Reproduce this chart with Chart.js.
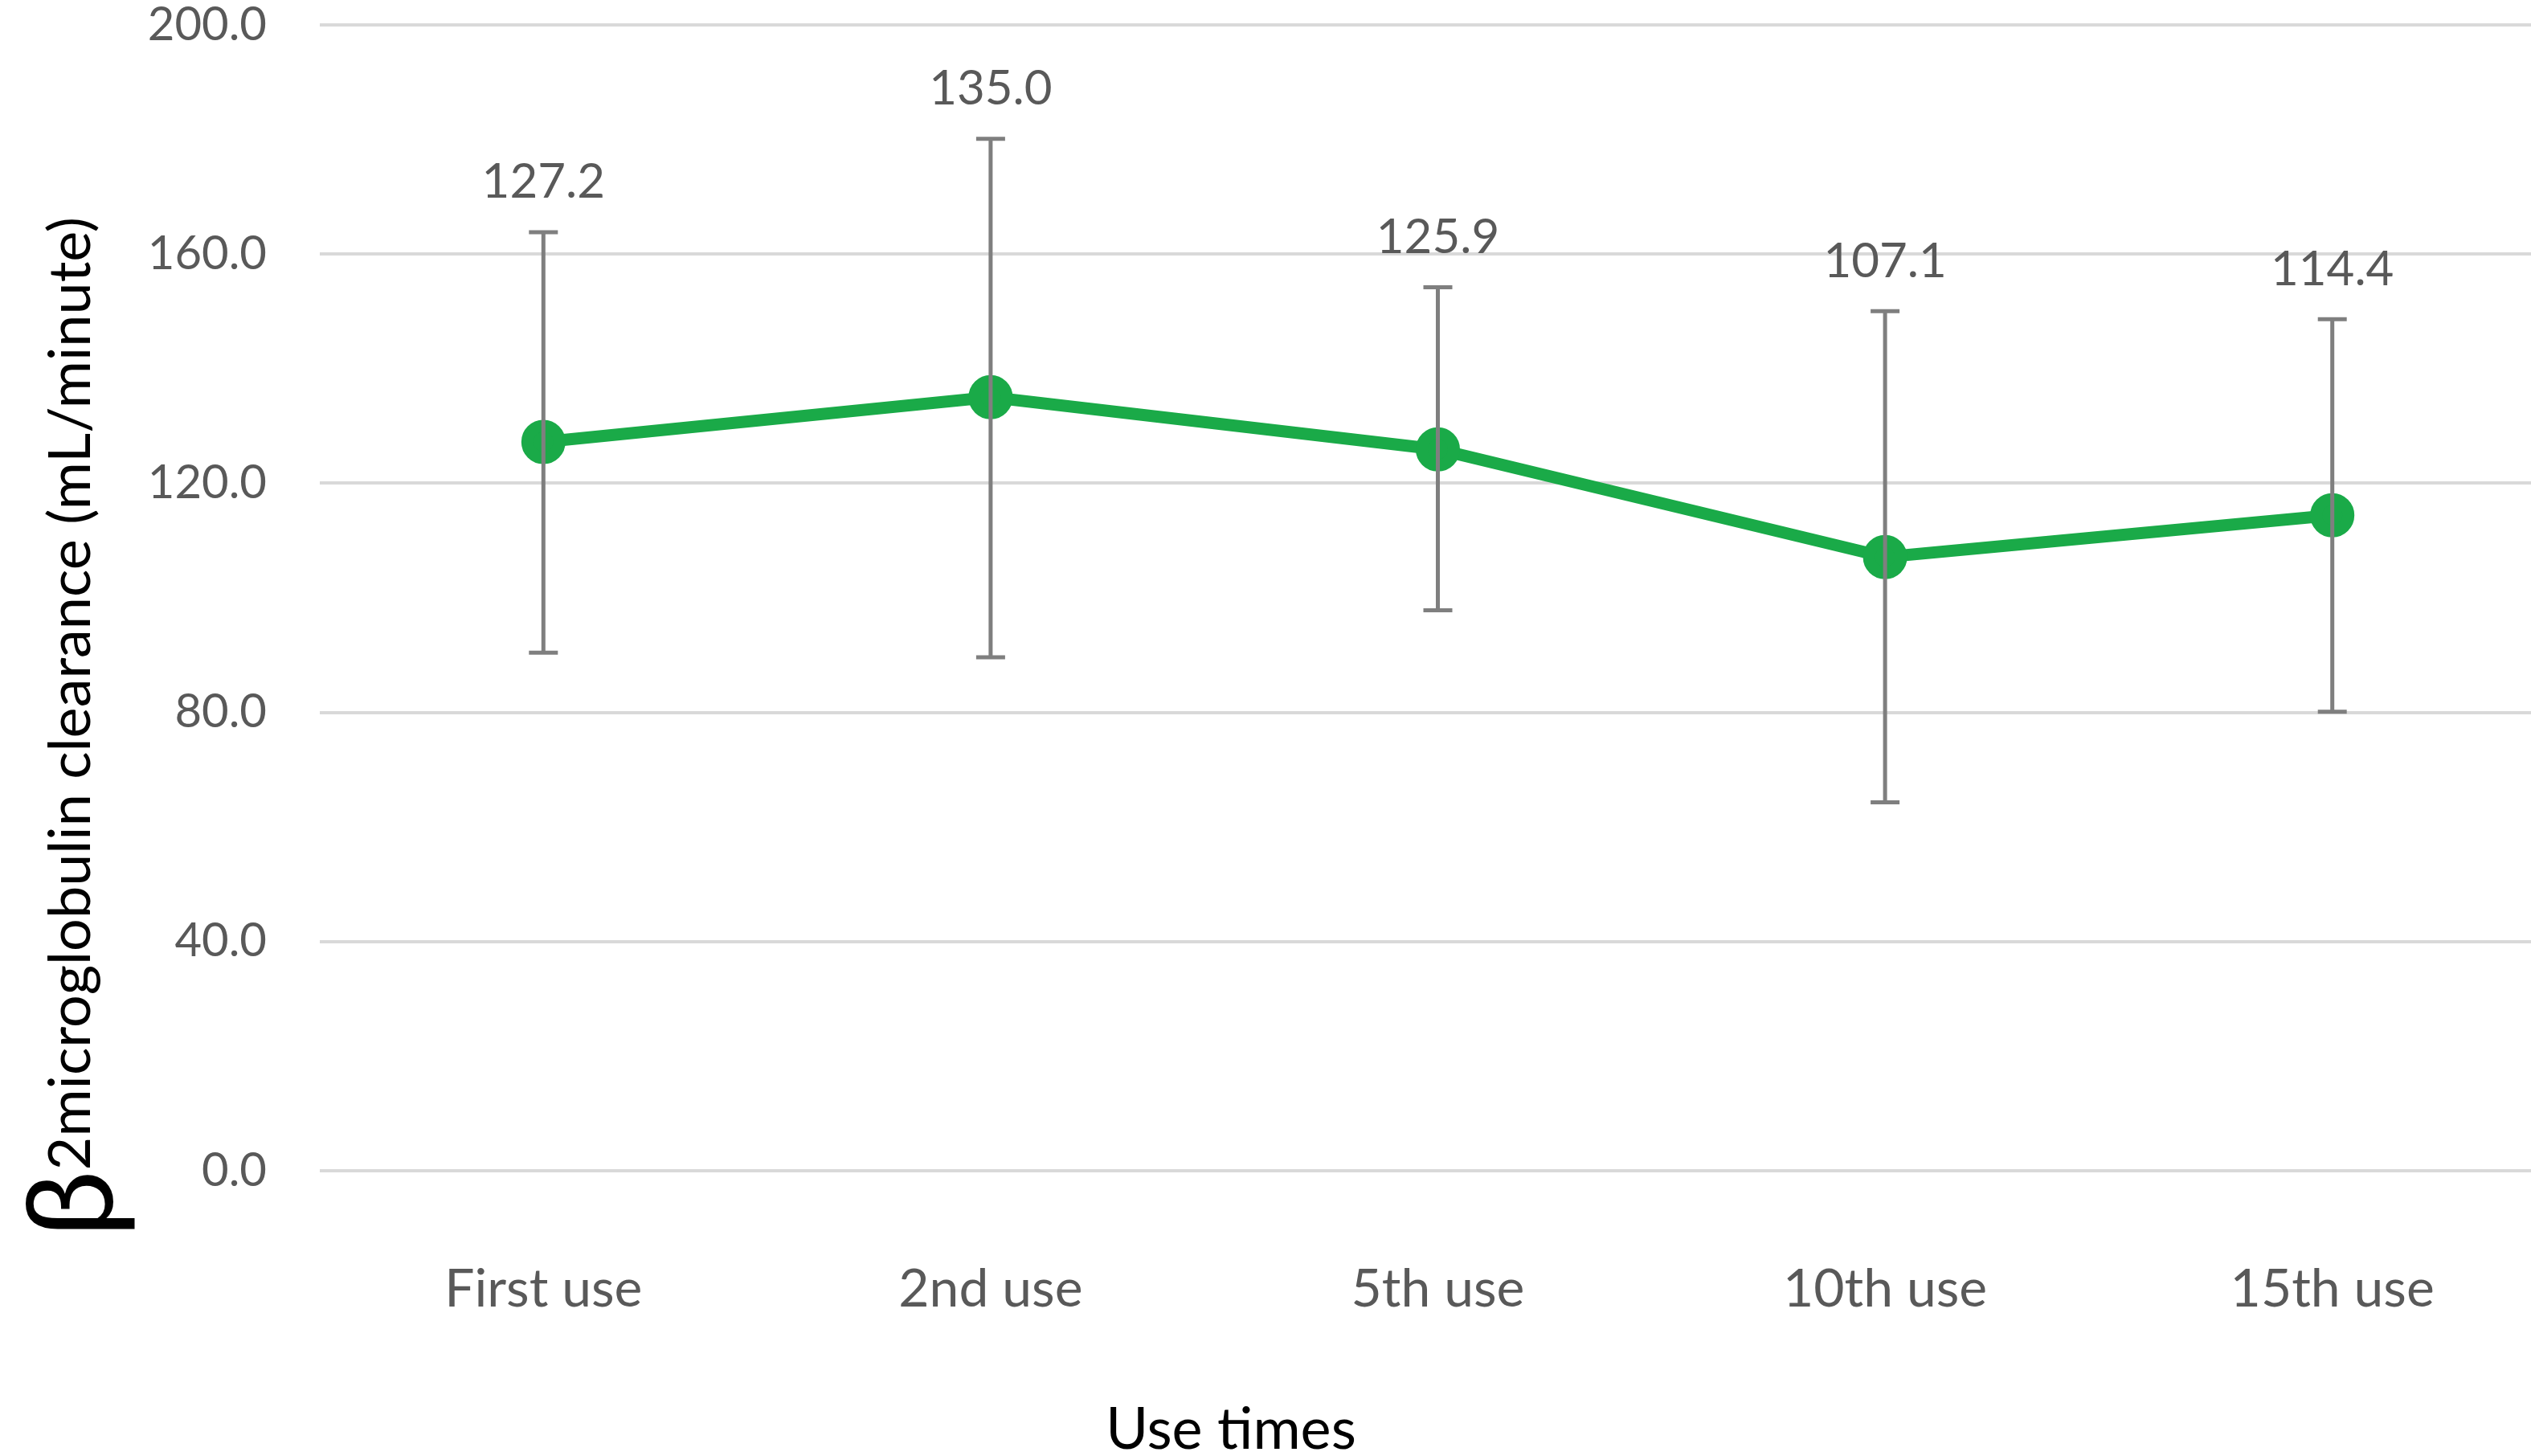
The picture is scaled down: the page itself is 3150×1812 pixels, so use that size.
<!DOCTYPE html>
<html>
<head>
<meta charset="utf-8">
<script src="https://cdn.jsdelivr.net/npm/chart.js@4/dist/chart.umd.min.js"></script>
<style>
  html, body { margin: 0; padding: 0; background: #fff; overflow: hidden; width: 3150px; height: 1812px; }
  #wrap { width: 3216px; height: 1882px; margin-top: -70px; }
</style>
</head>
<body>
<div id="wrap"><canvas id="chart"></canvas></div>
<script>
const categories = ['First use', '2nd use', '5th use', '10th use', '15th use'];
const means = [127.2, 135.0, 125.9, 107.1, 114.4];
const upper = [163.8, 180.1, 154.2, 150.0, 148.6];
const lower = [90.4, 89.6, 97.8, 64.3, 80.1];

const FONT = 'Lato, "Open Sans", sans-serif';
const SHIFT = 70; // canvas is moved up by this much

// error bars + value labels
const errorBars = {
  id: 'errorBars',
  afterDatasetsDraw(chart) {
    const { ctx, scales: { x, y } } = chart;
    ctx.save();
    ctx.strokeStyle = '#7f7f7f';
    ctx.lineWidth = 5;
    categories.forEach((c, i) => {
      const px = x.getPixelForValue(i);
      const t = y.getPixelForValue(upper[i]), b = y.getPixelForValue(lower[i]);
      ctx.beginPath();
      ctx.moveTo(px, t); ctx.lineTo(px, b);
      ctx.moveTo(px - 18, t); ctx.lineTo(px + 18, t);
      ctx.moveTo(px - 18, b); ctx.lineTo(px + 18, b);
      ctx.stroke();
      ctx.fillStyle = '#595959';
      ctx.font = '60px ' + FONT;
      ctx.textAlign = 'center';
      ctx.textBaseline = 'middle';
      ctx.fillText(means[i].toFixed(1), px, t - 62);
    });
    ctx.restore();
  }
};

// axis titles
const titles = {
  id: 'titles',
  afterDraw(chart) {
    const { ctx } = chart;
    ctx.save();
    ctx.fillStyle = '#000';
    ctx.font = '72px ' + FONT;
    ctx.textAlign = 'center';
    ctx.textBaseline = 'middle';
    ctx.fillText('Use times', 1532, 1780 + SHIFT);
    ctx.translate(90, 0);
    ctx.rotate(-Math.PI / 2);
    ctx.textAlign = 'left';
    ctx.textBaseline = 'alphabetic';
    ctx.font = '150px ' + FONT;
    ctx.fillText('β', -1540 - SHIFT, 50);
    const bw = ctx.measureText('β').width;
    ctx.font = '72px ' + FONT;
    ctx.fillText('2microglobulin clearance (mL/minute)', -1540 - SHIFT + bw, 22);
    ctx.restore();
  }
};

new Chart(document.getElementById('chart'), {
  type: 'line',
  data: {
    labels: categories,
    datasets: [{
      data: means,
      borderColor: '#1aaa48',
      backgroundColor: '#1aaa48',
      borderWidth: 15,
      pointRadius: 20,
      pointHoverRadius: 20,
      tension: 0
    }]
  },
  options: {
    responsive: true,
    maintainAspectRatio: false,
    animation: false,
    layout: { padding: { top: 26, right: 0, left: 0, bottom: 0 } },
    plugins: { legend: { display: false }, tooltip: { enabled: false } },
    scales: {
      x: {
        offset: true,
        grid: { display: false },
        border: { display: false },
        ticks: { color: '#595959', font: { family: FONT, size: 66 }, padding: 100 },
        afterFit(s) { s.height = 355; }
      },
      y: {
        min: 0, max: 200,
        ticks: { stepSize: 40, color: '#595959', font: { family: FONT, size: 58 }, padding: 66,
                 callback: v => v.toFixed(1) },
        grid: { color: '#d9d9d9', lineWidth: 4, drawTicks: false },
        border: { display: false },
        afterFit(s) { s.width = 398; }
      }
    }
  },
  plugins: [errorBars, titles]
});
</script>
</body>
</html>
